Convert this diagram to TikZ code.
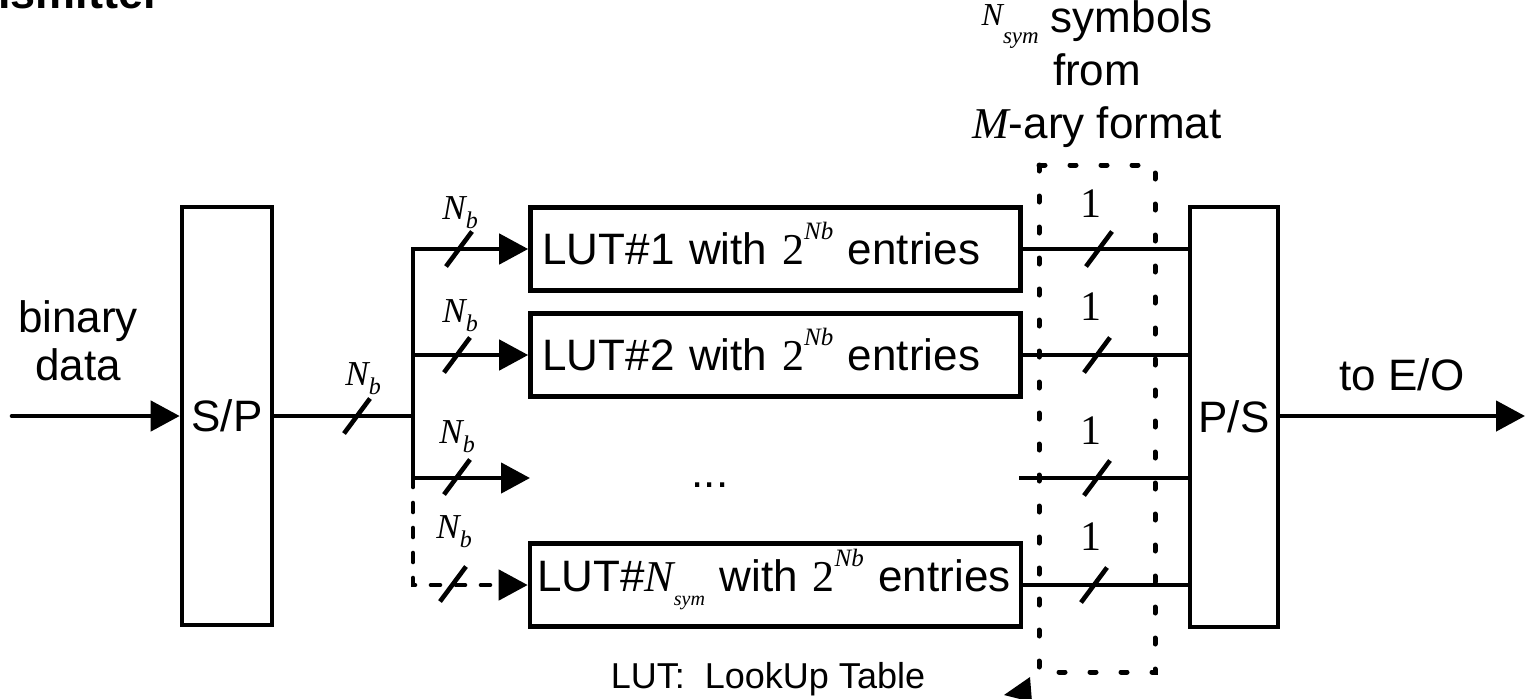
\documentclass[tikz,border=0pt]{standalone}
\usepackage{fontspec}
\setmainfont{Liberation Sans}
\newfontfamily\tms{Liberation Serif}
\usetikzlibrary{arrows.meta,positioning}

% italic N with a lowered index: size of N, size of index, index, drop
\newcommand{\Nsub}[4]{{\tms\itshape\fontsize{#1}{#1}\selectfont N\raisebox{#4}{\fontsize{#2}{#2}\selectfont #3}}}
\newcommand{\nb}{\Nsub{17.5}{12}{b}{-4.5pt}}
\newcommand{\twonb}{{\tms 2\raisebox{12.5pt}[0pt][0pt]{\itshape\fontsize{12.5}{12.5}\selectfont Nb}}}

\tikzset{
  ln/.style={line width=2.3pt},
  arr/.style={ln,-{Triangle[length=14.5pt,width=15pt]}},
  blk/.style={draw,line width=2.3pt,inner sep=0pt},
  lut/.style={blk,minimum height=41.5pt,text width=233pt,inner xsep=6pt,align=left},
  lbl/.style={inner sep=0pt,anchor=base west},
  one/.style={inner sep=0pt,anchor=base,font=\tms\fontsize{21}{21}\selectfont},
  grp/.style={line width=2.5pt,line cap=round,dash pattern=on 3pt off 12.5pt},
  trunk/.style={line cap=round,dash pattern=on 4.5pt off 8pt},
  busslash/.pic={\draw[ln] (-13,17.5) -- (13,-17.5);},
}

\begin{document}
\begin{tikzpicture}[x=0.5pt,y=-0.5pt,font=\fontsize{22}{26.5}\selectfont]
\useasboundingbox (0,0) rectangle (1525,698);

% heading, cut by the top edge
\node[lbl,font=\bfseries\fontsize{22.5}{27}\selectfont] (head) at (-2,8) {ismitter};

% blocks
\node[blk,minimum width=45pt,minimum height=209pt] (sp) at (227,416) {S/P};
\node[blk,minimum width=44pt,minimum height=210pt] (ps) at (1234,417) {P/S};
\node[lut] (lut1) at (775.5,249) {LUT\#1 with \twonb{} entries};
\node[lut] (lut2) at (775.5,355) {LUT\#2 with \twonb{} entries};
\node[lut,inner xsep=3.5pt,text width=238.5pt] (lutn) at (775.5,585)
  {\mbox{LUT\#\Nsub{22}{10}{sym}{-7pt} with \twonb{} entries}};
\node[inner sep=0pt,anchor=base] (dots) at (710,487) {...};

% input side
\coordinate (in) at (12,416);
\node[align=center,anchor=base,font=\fontsize{22}{24}\selectfont] (bin) at (78,380) {binary\\data};
\draw[arr,line cap=round] (in) -- (sp.west);

\coordinate (split) at (413,416);
\draw[ln] (sp.east) -- (split);
\pic at (357,416) {busslash};
\node[lbl] (nb0) at (345,385) {\nb};

% fan out to the tables
\coordinate (b1) at (413,249);
\coordinate (b2) at (413,355);
\coordinate (b3) at (413,478);
\coordinate (b4) at (413,585);
\coordinate (dotsin) at (530,478);
\draw[arr] (b3) -- (b1) -- (lut1.west);
\draw[arr] (b2) -- (lut2.west);
\draw[arr] (b3) -- (dotsin);
\draw[arr,trunk] (b3) -- (b4) -- (lutn.west);

\pic at (459,249) {busslash};
\pic at (457,355) {busslash};
\pic at (457,477) {busslash};
\pic at (453,584) {busslash};
\node[lbl] (nb1) at (442,219) {\nb};
\node[lbl] (nb2) at (442,322) {\nb};
\node[lbl] (nb3) at (439,443) {\nb};
\node[lbl] (nb4) at (436,538) {\nb};

% tables to P/S
\coordinate (dotsout) at (1019,478);
\draw[ln] (lut1.east) -- (lut1.east -| ps.west);
\draw[ln] (lut2.east) -- (lut2.east -| ps.west);
\draw[ln] (dotsout) -- (dotsout -| ps.west);
\draw[ln] (lutn.east) -- (lutn.east -| ps.west);

\pic at (1099,249) {busslash};
\pic at (1097,355) {busslash};
\pic at (1097,478) {busslash};
\pic at (1094,585) {busslash};
\node[one] (one1) at (1091,217) {1};
\node[one] (one2) at (1091,320) {1};
\node[one] (one3) at (1091,444) {1};
\node[one] (one4) at (1091,550) {1};

% symbol group
\draw[grp] (1039,165) rectangle (1155,672);
\fill (1030,677) -- (1004,695) -- (1032,702) -- cycle;
\node[align=center,anchor=base] (nsym) at (1097,138)
  {{\tms\itshape\raisebox{3.5pt}{\fontsize{16}{16}\selectfont N}\raisebox{-5.5pt}{\fontsize{11.5}{11.5}\selectfont sym}} symbols\\from\\{\tms\itshape M}-ary format};

% output
\coordinate (out) at (1525,416);
\draw[arr] (ps.east |- out) -- (out);
\node[anchor=base] (eo) at (1402,390) {to E/O};

\node[anchor=base,font=\fontsize{18}{20}\selectfont] (lutkey) at (768,688) {LUT:\ \ LookUp Table};
\end{tikzpicture}
\end{document}
